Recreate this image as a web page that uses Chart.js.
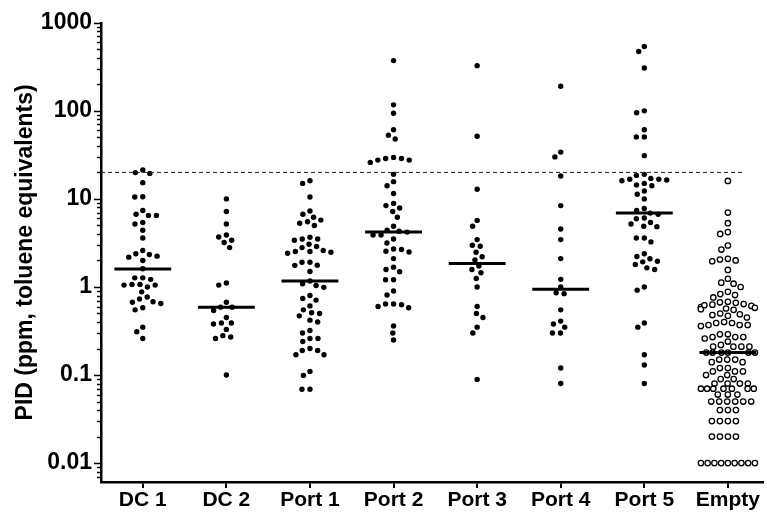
<!DOCTYPE html>
<html>
<head>
<meta charset="utf-8">
<script src="https://cdn.jsdelivr.net/npm/chart.js"></script>
<style>
  html, body { margin: 0; padding: 0; background: #fff; }
  #chart { display: block; }
</style>
</head>
<body>
<canvas id="chart" width="767" height="514"></canvas>
<script>
// groups on the x axis
const categories = ['DC 1', 'DC 2', 'Port 1', 'Port 2', 'Port 3', 'Port 4', 'Port 5', 'Empty'];

// PID readings (ppm)
const dc1 = [21.3, 19.5, 19.9, 15.3, 10.5, 10.6, 7.4, 6.5, 6.5, 6.7, 5.2, 5.4, 4.4, 3.6, 2.6, 2.34, 2.18, 2.24, 2.38, 2.0,
  1.61, 1.27, 1.22, 1.27, 1.07, 1.05, 1.07, 1.0, 1.05, 0.88, 0.73, 0.77, 0.65, 0.68, 0.67, 0.55, 0.58, 0.35, 0.31, 0.26];
const dc2 = [10.0, 7.2, 5.2, 3.9, 3.4, 3.7, 3.2, 2.8, 1.11, 1.05, 0.67, 0.59, 0.59, 0.54, 0.45, 0.39, 0.38, 0.39, 0.33,
  0.27, 0.26, 0.28, 0.10];
const port1 = [15.0, 16.1, 10.5, 7.3, 6.2, 6.7, 5.75, 5.3, 5.0, 5.5, 3.5, 3.4, 3.5, 3.67, 2.88, 2.6, 2.48, 2.53, 2.53, 2.8,
  3.06, 2.42, 1.76, 1.91, 1.91, 1.77, 1.5, 1.09, 0.99, 1.04, 1.17, 0.74, 0.71, 0.80, 0.55, 0.50, 0.51, 0.61, 0.47, 0.42,
  0.40, 0.30, 0.32, 0.26, 0.24, 0.26, 0.20, 0.19, 0.17, 0.17, 0.19, 0.11, 0.099, 0.069, 0.069];
const port2 = [372, 117, 94, 61, 53, 48, 28.8, 27.6, 26, 27.6, 28.8, 29.6, 19, 15.7, 14.1, 11.5, 8.4, 7.9, 7.2, 8.9, 6.2,
  4.9, 4.3, 3.9, 3.5, 3.9, 4.2, 4.4, 2.7, 2.66, 3.16, 2.5, 2.55, 2.1, 1.68, 1.49, 1.58, 1.21, 1.21, 0.90, 0.81, 0.64,
  0.63, 0.58, 0.60, 0.64, 0.36, 0.30, 0.25];
const port3 = [326, 51.5, 12.9, 5.7, 4.9, 3.45, 2.98, 2.9, 2.48, 2.2, 2.03, 1.73, 1.58, 1.45, 1.25, 1.0, 0.60, 0.50, 0.45,
  0.35, 0.30, 0.089];
const port4 = [190, 30, 34, 18.2, 8.4, 4.55, 3.45, 2.1, 1.22, 1.0, 0.86, 0.84, 0.55, 0.41, 0.38, 0.35, 0.30, 0.30, 0.12, 0.080];
const port5 = [473, 539, 307, 95, 100, 50.6, 50.6, 61, 31, 18.5, 19, 16.7, 16.1, 16.4, 16.7, 17.1, 14.4, 14.1, 15.0, 12.3,
  11.3, 10.0, 7.4, 7.8, 6.7, 6.9, 5.96, 6.06, 5.4, 5.2, 4.84, 4.9, 3.6, 3.25, 3.6, 2.38, 1.93, 2.09, 2.22, 1.96, 1.65,
  1.58, 1.80, 0.92, 1.0, 0.39, 0.35, 0.17, 0.13, 0.080];
const empty = [16, 7.0, 5.3, 4.0, 4.2, 2.96, 2.66, 2.05, 1.96, 2.0, 2.09, 1.56, 1.12, 1.0, 1.09, 1.24, 0.83, 0.81, 0.88, 0.76,
  0.68, 0.66, 0.64, 0.63, 0.61, 0.59, 0.58, 0.57, 0.56, 0.55, 0.62, 0.67,
  0.50, 0.48, 0.47, 0.45, 0.49,
  0.39, 0.37, 0.37, 0.40, 0.36, 0.37, 0.39,
  0.29, 0.27, 0.26, 0.27, 0.27, 0.29,
  0.24, 0.22, 0.21, 0.21, 0.21, 0.21,
  0.18, 0.18, 0.18, 0.18, 0.18, 0.18,
  0.15, 0.14, 0.15, 0.15, 0.14,
  0.11, 0.12, 0.11, 0.12, 0.10, 0.10, 0.11,
  0.09, 0.09, 0.08, 0.08, 0.08, 0.08,
  0.07, 0.07, 0.07, 0.07, 0.07, 0.07, 0.07,
  0.06, 0.06, 0.06, 0.05, 0.05, 0.05, 0.05, 0.05, 0.05,
  0.04, 0.04, 0.04, 0.03, 0.03, 0.03, 0.03, 0.02, 0.02, 0.02, 0.02,
  0.01, 0.01, 0.01, 0.01, 0.01, 0.01, 0.01, 0.01, 0.01];

const groups = [dc1, dc2, port1, port2, port3, port4, port5, empty];
const medians = [1.6, 0.59, 1.17, 4.2, 1.85, 0.94, 6.9, 0.18];
const threshold = 20;
const yTicks = [0.01, 0.1, 1, 10, 100, 1000];

const FONT = "'Liberation Sans', Arial, sans-serif";
const GAP_X = 8;       // px between dot centres side by side
const GAP_Y = 7;       // px vertical distance at which dots stop colliding
const MAX_HALF = 27;   // widest a row may spread from the centre, px
const HALF_BAR = 0.34; // half width of median bar, in category units

// log-axis tick marks (majors long, minors short)
const logTicks = {
  id: 'logTicks',
  afterDraw(chart) {
    const { ctx, chartArea } = chart;
    const y = chart.scales.y;
    ctx.save();
    ctx.strokeStyle = '#000';
    ctx.lineWidth = 1.5;
    for (let e = -3; e <= 3; e++) {
      for (let m = 1; m <= 9; m++) {
        const v = m * Math.pow(10, e);
        if (v < y.min || v > y.max * 1.0001) continue;
        const py = Math.round(y.getPixelForValue(v)) + 0.5;
        const len = m === 1 ? 7 : 4;
        ctx.beginPath();
        ctx.moveTo(chartArea.left, py);
        ctx.lineTo(chartArea.left - len, py);
        ctx.stroke();
      }
    }
    ctx.restore();
  }
};

const pointSets = groups.map((vals, i) => ({
  type: 'scatter',
  data: vals.map(v => ({ x: i, y: v })),
  cat: i,
  swarm: true,
  pointRadius: 2.7,
  pointHoverRadius: 2.7,
  pointBackgroundColor: i === 7 ? '#fff' : '#000',
  pointBorderColor: '#000',
  pointBorderWidth: i === 7 ? 1.3 : 0,
  order: 3
}));

const medianSets = medians.map((m, i) => ({
  type: 'line',
  data: [{ x: i - HALF_BAR, y: m }, { x: i + HALF_BAR, y: m }],
  borderColor: '#000',
  borderWidth: 3,
  pointRadius: 0,
  order: 1
}));

const thresholdSet = {
  type: 'line',
  data: [{ x: -0.5, y: threshold }, { x: 7.17, y: threshold }],
  borderColor: '#222',
  borderWidth: 1,
  borderDash: [4, 3],
  pointRadius: 0,
  order: 2
};

const chart = new Chart(document.getElementById('chart'), {
  type: 'scatter',
  data: { datasets: [...medianSets, thresholdSet, ...pointSets] },
  options: {
    responsive: false,
    animation: false,
    devicePixelRatio: 1,
    layout: { padding: { top: 20, right: 0, left: 0, bottom: 0 } },
    plugins: { legend: { display: false }, tooltip: { enabled: false } },
    scales: {
      x: {
        type: 'linear',
        min: -0.5,
        max: 7.42,
        afterBuildTicks: s => { s.ticks = categories.map((c, i) => ({ value: i })); },
        afterFit: s => { s.height = 32; },
        ticks: {
          callback: v => categories[v],
          color: '#000',
          font: { family: FONT, size: 21, weight: 'bold' },
          padding: 0,
          maxRotation: 0,
          autoSkip: false
        },
        grid: { drawOnChartArea: false, drawTicks: true, tickLength: 6, lineWidth: 2, color: '#000' },
        border: { display: true, width: 2.5, color: '#000' }
      },
      y: {
        type: 'logarithmic',
        min: 0.0061,
        max: 1000,
        afterBuildTicks: s => { s.ticks = yTicks.map(v => ({ value: v })); },
        afterFit: s => { s.width = 101; },
        ticks: {
          callback: v => String(v),
          color: '#000',
          font: { family: FONT, size: 23, weight: 'bold' },
          padding: 9,
          autoSkip: false
        },
        grid: { display: false, drawTicks: false },
        border: { display: true, width: 2.5, color: '#000' },
        title: {
          display: true,
          text: 'PID (ppm, toluene equivalents)',
          color: '#000',
          font: { family: FONT, size: 23, weight: 'bold' },
          padding: { top: 12, bottom: 0 }
        }
      }
    }
  },
  plugins: [logTicks]
});

// spread each group's dots sideways so they do not overlap (compact beeswarm)
function layoutSwarm(chart) {
  const xs = chart.scales.x, ys = chart.scales.y;
  const unit = xs.getPixelForValue(1) - xs.getPixelForValue(0);
  chart.data.datasets.forEach(ds => {
    if (!ds.swarm) return;
    const pts = ds.data.map(p => ({ p, py: ys.getPixelForValue(p.y), dx: 0 }));
    pts.sort((a, b) => a.py - b.py);
    const placed = [];
    pts.forEach(o => {
      const blocked = [];
      placed.forEach(q => {
        const dy = Math.abs(q.py - o.py);
        if (dy < GAP_Y) {
          const w = GAP_X * Math.sqrt(1 - (dy / GAP_Y) * (dy / GAP_Y));
          blocked.push([q.dx - w, q.dx + w]);
        }
      });
      const cands = [0];
      blocked.forEach(([a, b]) => cands.push(a, b));
      cands.sort((a, b) => Math.abs(a) - Math.abs(b));
      o.dx = cands.find(c => blocked.every(([a, b]) => c <= a + 1e-6 || c >= b - 1e-6));
      placed.push(o);
    });
    // squeeze rows that run wider than the column allows
    const rows = {};
    pts.forEach(o => { (rows[Math.round(o.py)] = rows[Math.round(o.py)] || []).push(o); });
    Object.values(rows).forEach(row => {
      const w = Math.max(...row.map(o => Math.abs(o.dx)));
      if (w > MAX_HALF) row.forEach(o => { o.dx *= MAX_HALF / w; });
    });
    pts.forEach(o => { o.p.x = ds.cat + o.dx / unit; });
  });
  chart.update('none');
}
layoutSwarm(chart);
</script>
</body>
</html>
